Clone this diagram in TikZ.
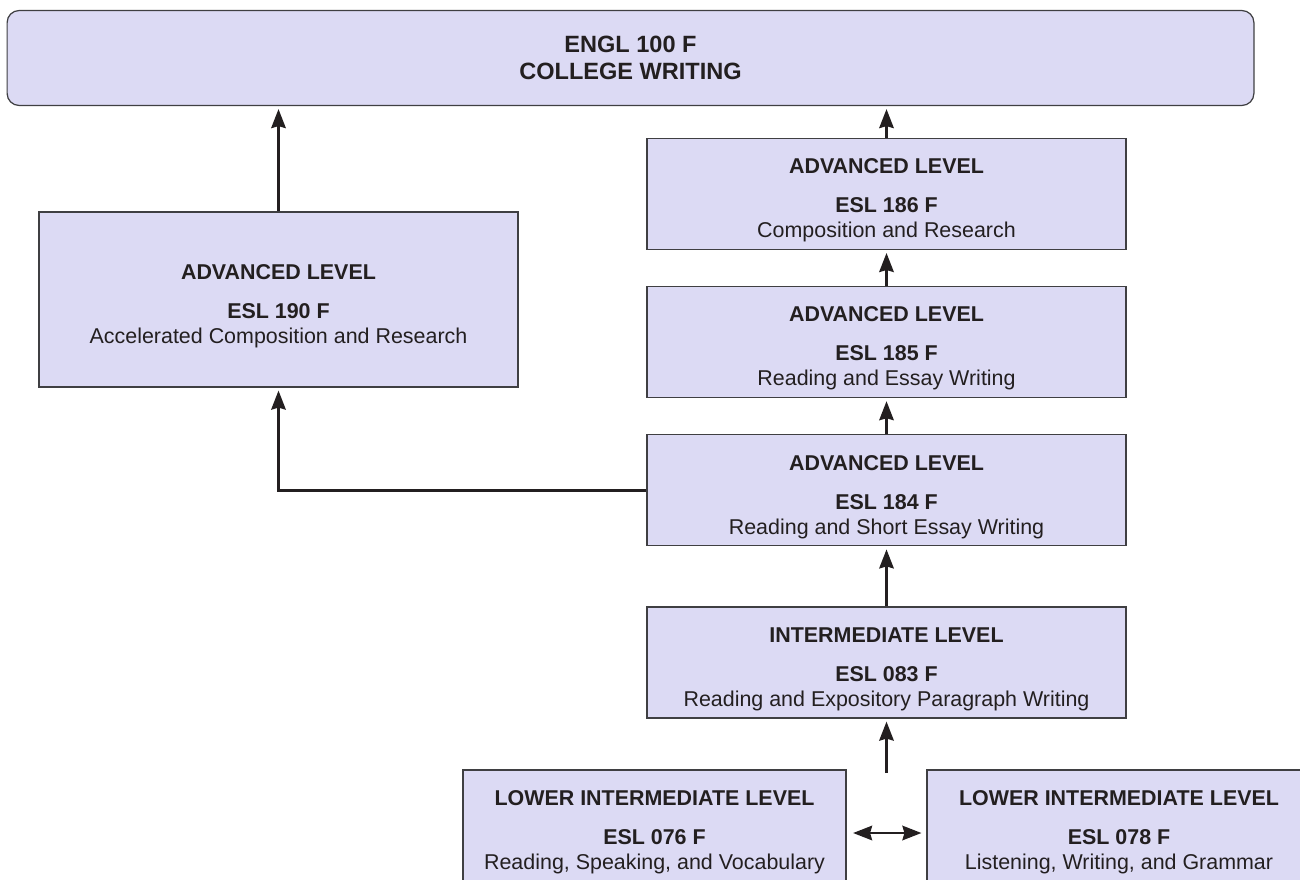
\documentclass[tikz,border=0pt]{standalone}
\usepackage{fontspec}
\setmainfont{Liberation Sans}
\usetikzlibrary{arrows.meta, positioning}
\definecolor{Lav} {HTML}{DCDAF4}
\definecolor{Ink} {HTML}{231F20}
\definecolor{Edge}{HTML}{3F3F42}
\tikzset{
  box/.style={draw=Edge, fill=Lav, line width=0.7pt, align=center, inner sep=0pt, text=Ink},
  crs/.style={box, font=\fontsize{12.2pt}{14.2pt}\selectfont,
              execute at begin node={\rule{0pt}{1.84cm}},
              minimum width=9.58cm, minimum height=2.22cm},
  hd/.tip={Stealth[length=0.38cm,width=0.29cm,inset=0.04cm]},
  arr/.style={-hd, line width=1.4pt, color=Ink, shorten >=0.06cm}
}

\begin{document}
\begin{tikzpicture}[x=0.02cm, y=-0.02cm]
  \useasboundingbox (0,0) rectangle (1300,879);
  \clip (0,0) rectangle (1300,879);
  \node[box, rounded corners=0.24cm, minimum width=24.94cm, minimum height=1.9cm,
        font=\fontsize{13.4pt}{15.4pt}\selectfont\bfseries] (top) at (630.5,58)
        {ENGL 100 F\\COLLEGE WRITING};
  \node[crs] (c083) at (886.5,662.5)
        {\textbf{INTERMEDIATE LEVEL}\\[0.28cm]\textbf{ESL 083 F}\\Reading and Expository Paragraph Writing};
  \node[crs, above=1.2cm of c083] (c184)
        {\textbf{ADVANCED LEVEL}\\[0.28cm]\textbf{ESL 184 F}\\Reading and Short Essay Writing};
  \node[crs, above=0.72cm of c184] (c185)
        {\textbf{ADVANCED LEVEL}\\[0.28cm]\textbf{ESL 185 F}\\Reading and Essay Writing};
  \node[crs, above=0.72cm of c185] (c186)
        {\textbf{ADVANCED LEVEL}\\[0.28cm]\textbf{ESL 186 F}\\Composition and Research};
  \node[crs, minimum height=3.5cm] (c190) at (278.5,299.5)
        {\textbf{ADVANCED LEVEL}\\[0.28cm]\textbf{ESL 190 F}\\Accelerated Composition and Research};
  \node[crs, minimum width=7.66cm] (c076) at (654.5,825.5)
        {\textbf{LOWER INTERMEDIATE LEVEL}\\[0.28cm]\textbf{ESL 076 F}\\Reading, Speaking, and Vocabulary};
  \node[crs, minimum width=7.68cm] (c078) at (1119,825.5)
        {\textbf{LOWER INTERMEDIATE LEVEL}\\[0.28cm]\textbf{ESL 078 F}\\Listening, Writing, and Grammar};
  \coordinate (join) at (886.5,773);
  % connectors
  \draw[arr] (join) -- (c083);
  \draw[arr] (c083) -- (c184);
  \draw[arr] (c184) -- (c185);
  \draw[arr] (c185) -- (c186);
  \draw[arr] (c186.north) -- (c186.north |- top.south);
  \draw[arr] (c190.north) -- (c190.north |- top.south);
  \draw[arr] (c184.west) -| (c190.south);
  \draw[arr, hd-hd, shorten <=0.13cm, shorten >=0.1cm]
       ([yshift=-0.15cm]c076.east) -- ([yshift=-0.15cm]c078.west);
\end{tikzpicture}
\end{document}
